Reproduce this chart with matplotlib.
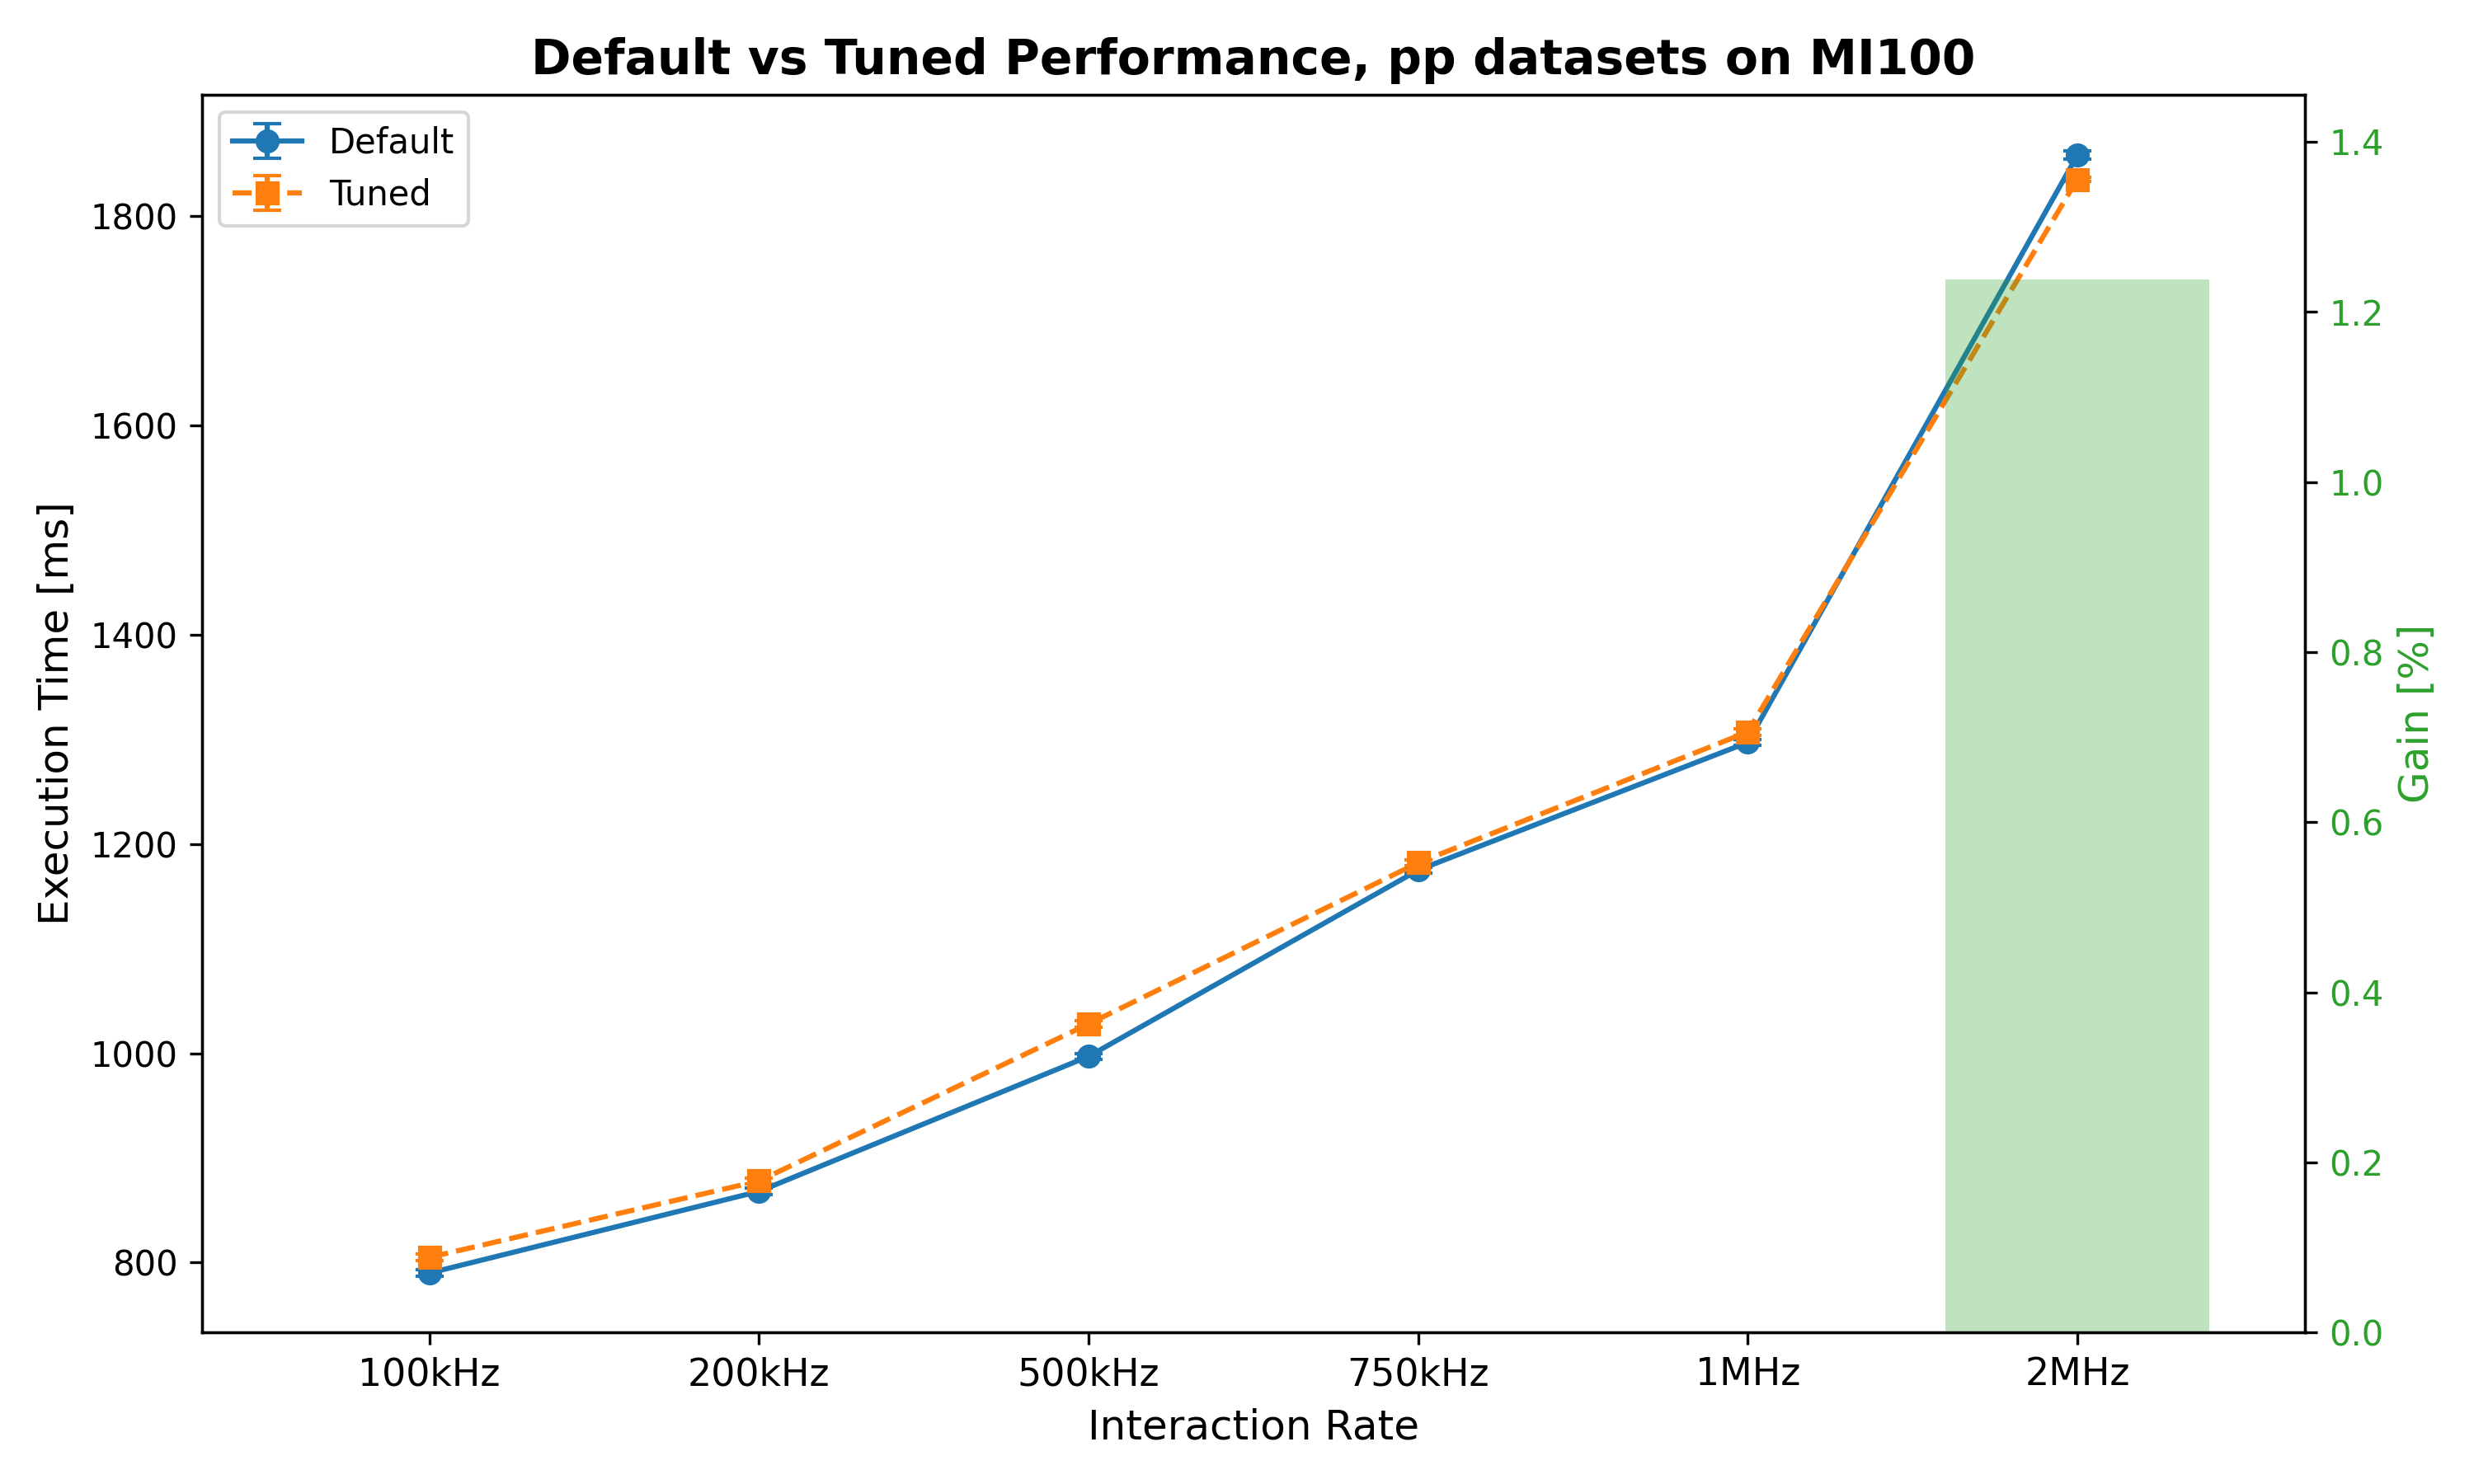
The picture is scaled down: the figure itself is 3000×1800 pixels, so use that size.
import numpy as np
import matplotlib
matplotlib.use("Agg")
import matplotlib.pyplot as plt

rates = ["100kHz", "200kHz", "500kHz", "750kHz", "1MHz", "2MHz"]
default_ms = [790, 868, 997, 1175, 1297, 1858]
default_err = [3, 3, 3, 3, 3, 4]
tuned_ms = [805, 878, 1028, 1182, 1307, 1835]
tuned_err = [3, 3, 3, 3, 3, 2]

x = np.arange(len(rates))
default_ms = np.array(default_ms)
tuned_ms = np.array(tuned_ms)
gain = (default_ms - tuned_ms) / default_ms * 100

fig, ax1 = plt.subplots(figsize=(10, 6), dpi=300)

ax1.errorbar(x, default_ms, yerr=default_err, fmt="-o", capsize=4, label="Default")
ax1.errorbar(x, tuned_ms, yerr=tuned_err, fmt="--s", capsize=4, label="Tuned")
ax1.set_xlabel("Interaction Rate", fontsize=12)
ax1.set_ylabel("Execution Time [ms]", fontsize=12)
ax1.set_xticks(x)
ax1.set_xticklabels(rates, fontsize=11)
ax1.legend(loc="upper left")

ax2 = ax1.twinx()
ax2.bar(x, gain, width=0.8, color="tab:green", alpha=0.3)
ax2.set_ylim(bottom=0)
ax2.set_ylabel("Gain [%]", color="tab:green", fontsize=12)
ax2.tick_params(axis="y", labelcolor="tab:green")

plt.title("Default vs Tuned Performance, pp datasets on MI100", fontsize=14, fontweight="bold")
plt.tight_layout()
plt.savefig("out.png")
